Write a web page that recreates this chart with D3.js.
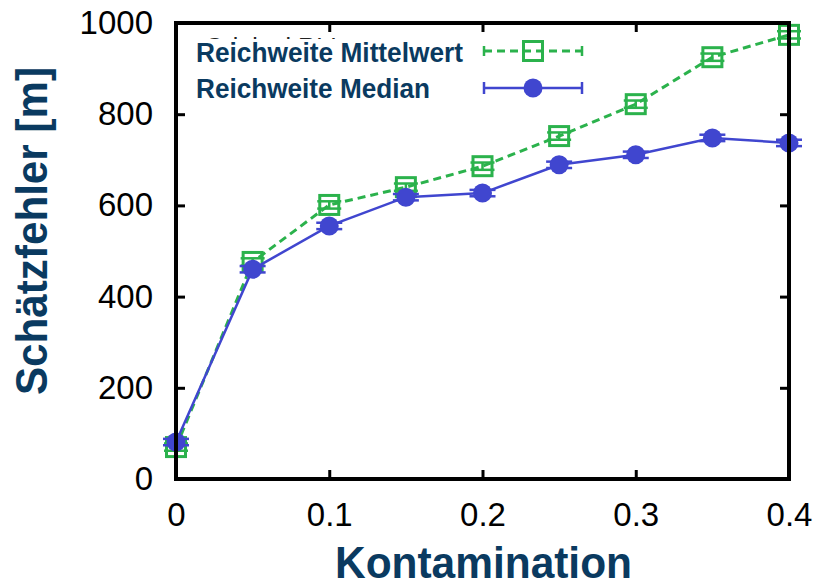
<!DOCTYPE html>
<html>
<head>
<meta charset="utf-8">
<script src="https://cdn.jsdelivr.net/npm/d3@7"></script>
<style>
	body { margin: 0; background: #fff; }
	svg { display: block; font-family: "Liberation Sans", Arial, sans-serif; }
</style>
</head>
<body>
<div id="chart"></div>
<script>
	// Kontamination (x values)
	var contamination = [0, 0.05, 0.1, 0.15, 0.2, 0.25, 0.3, 0.35, 0.4];
	// Reichweite Mittelwert / Median, estimation error in m
	var meanValues = [70, 476, 601, 640, 686, 752, 822, 925, 974];
	var meanErrors = [8, 8, 8, 8, 8, 8, 8, 8, 8];
	var medianValues = [81, 460, 555, 618, 627, 689, 711, 748, 737];
	var medianErrors = [7, 7, 7, 7, 7, 7, 7, 7, 7];
	var xTicks = [0, 0.1, 0.2, 0.3, 0.4];
	var yTicks = [0, 200, 400, 600, 800, 1000];

(function () {
	'use strict';

	var width = 821, height = 585;
	var pLeft = 176, pRight = 789, pTop = 23, pBottom = 479;
	var green = "#2bb24c", blue = "#4046cf", labelColor = "#0a3a60";

	var svg = d3.select("#chart").append("svg")
		.attr("width", width)
		.attr("height", height);

	var x = d3.scaleLinear().domain([0, 0.4]).range([pLeft, pRight]);
	var y = d3.scaleLinear().domain([0, 1000]).range([pBottom, pTop]);

	// clipped title text peeking out behind the legend
	svg.append("clipPath").attr("id", "peek")
		.append("rect").attr("x", pLeft).attr("y", pTop).attr("width", 400).attr("height", 16);
	svg.append("text")
		.attr("clip-path", "url(#peek)")
		.attr("x", 205).attr("y", 56)
		.attr("font-size", 25)
		.attr("fill", "#222")
		.text("Original RLI");

	// axes with inward ticks
	var fmtX = function(d) { return d === 0 ? "0" : d3.format(".1f")(d); };
	var axisStyle = function(g) {
		g.attr("font-size", 33).attr("font-family", "'Liberation Sans', Arial, sans-serif");
		g.select(".domain").remove();
		g.selectAll(".tick line").attr("stroke", "#000").attr("stroke-width", 3);
		g.selectAll(".tick text").attr("fill", "#000");
	};
	svg.append("g").attr("transform", "translate(0," + pBottom + ")")
		.call(d3.axisBottom(x).tickValues(xTicks).tickFormat(fmtX).tickSizeInner(-9).tickPadding(24))
		.call(axisStyle);
	svg.append("g").attr("transform", "translate(0," + pTop + ")")
		.call(d3.axisTop(x).tickValues(xTicks).tickFormat("").tickSizeInner(-9))
		.call(axisStyle);
	svg.append("g").attr("transform", "translate(" + pLeft + ",0)")
		.call(d3.axisLeft(y).tickValues(yTicks).tickFormat(d3.format("d")).tickSizeInner(-9).tickPadding(23))
		.call(axisStyle);
	svg.append("g").attr("transform", "translate(" + pRight + ",0)")
		.call(d3.axisRight(y).tickValues(yTicks).tickFormat("").tickSizeInner(-9))
		.call(axisStyle);

	var meanData = contamination.map(function(c, i) { return {x: c, v: meanValues[i], e: meanErrors[i]}; });
	var medianData = contamination.map(function(c, i) { return {x: c, v: medianValues[i], e: medianErrors[i]}; });

	var line = d3.line().x(function(d) { return x(d.x); }).y(function(d) { return y(d.v); });

	function errorBars(data, color, capW) {
		var g = svg.append("g").attr("stroke", color).attr("stroke-width", 2.5);
		data.forEach(function(d) {
			var cx = x(d.x);
			g.append("line").attr("x1", cx).attr("x2", cx).attr("y1", y(d.v - d.e)).attr("y2", y(d.v + d.e));
			g.append("line").attr("x1", cx - capW).attr("x2", cx + capW).attr("y1", y(d.v - d.e)).attr("y2", y(d.v - d.e));
			g.append("line").attr("x1", cx - capW).attr("x2", cx + capW).attr("y1", y(d.v + d.e)).attr("y2", y(d.v + d.e));
		});
	}

	// Mittelwert: dashed green with open squares
	svg.append("path").datum(meanData)
		.attr("d", line)
		.attr("fill", "none")
		.attr("stroke", green)
		.attr("stroke-width", 3)
		.attr("stroke-dasharray", "8,5");
	errorBars(meanData, green, 12);
	svg.selectAll(".sq").data(meanData).enter().append("rect")
		.attr("x", function(d) { return x(d.x) - 9.5; })
		.attr("y", function(d) { return y(d.v) - 9.5; })
		.attr("width", 19).attr("height", 19)
		.attr("fill", "none")
		.attr("stroke", green)
		.attr("stroke-width", 3);

	// Median: solid blue with filled circles
	svg.append("path").datum(medianData)
		.attr("d", line)
		.attr("fill", "none")
		.attr("stroke", blue)
		.attr("stroke-width", 2.5);
	errorBars(medianData, blue, 13);
	svg.selectAll(".dot").data(medianData).enter().append("circle")
		.attr("cx", function(d) { return x(d.x); })
		.attr("cy", function(d) { return y(d.v); })
		.attr("r", 9.5)
		.attr("fill", blue);

	// legend
	var legend = svg.append("g");
	legend.append("text").attr("x", 196).attr("y", 62)
		.attr("font-size", 27).attr("font-weight", "bold").attr("fill", labelColor)
		.attr("textLength", 267).attr("lengthAdjust", "spacingAndGlyphs")
		.text("Reichweite Mittelwert");
	legend.append("text").attr("x", 196).attr("y", 98)
		.attr("font-size", 27).attr("font-weight", "bold").attr("fill", labelColor)
		.attr("textLength", 234).attr("lengthAdjust", "spacingAndGlyphs")
		.text("Reichweite Median");
	var lx1 = 484, lx2 = 582, lxm = 533, ly1 = 51, ly2 = 88;
	legend.append("line").attr("x1", lx1).attr("x2", lx2).attr("y1", ly1).attr("y2", ly1)
		.attr("stroke", green).attr("stroke-width", 3).attr("stroke-dasharray", "8,5");
	[lx1, lx2].forEach(function(px) {
		legend.append("line").attr("x1", px).attr("x2", px).attr("y1", ly1 - 5).attr("y2", ly1 + 5)
			.attr("stroke", green).attr("stroke-width", 2.5);
		legend.append("line").attr("x1", px).attr("x2", px).attr("y1", ly2 - 6).attr("y2", ly2 + 6)
			.attr("stroke", blue).attr("stroke-width", 2.5);
	});
	legend.append("rect").attr("x", lxm - 9.5).attr("y", ly1 - 9.5).attr("width", 19).attr("height", 19)
		.attr("fill", "none").attr("stroke", green).attr("stroke-width", 3);
	legend.append("line").attr("x1", lx1).attr("x2", lx2).attr("y1", ly2).attr("y2", ly2)
		.attr("stroke", blue).attr("stroke-width", 2.5);
	legend.append("circle").attr("cx", lxm).attr("cy", ly2).attr("r", 9.5).attr("fill", blue);

	// frame on top
	svg.append("rect")
		.attr("x", pLeft).attr("y", pTop)
		.attr("width", pRight - pLeft).attr("height", pBottom - pTop)
		.attr("fill", "none").attr("stroke", "#000").attr("stroke-width", 4);

	// axis titles
	svg.append("text")
		.attr("x", 335).attr("y", 578)
		.attr("font-size", 45).attr("font-weight", "bold").attr("fill", labelColor)
		.attr("textLength", 297).attr("lengthAdjust", "spacingAndGlyphs")
		.text("Kontamination");
	svg.append("text")
		.attr("transform", "translate(47,395) rotate(-90)")
		.attr("font-size", 45).attr("font-weight", "bold").attr("fill", labelColor)
		.attr("textLength", 328).attr("lengthAdjust", "spacingAndGlyphs")
		.text("Schätzfehler [m]");
}());
</script>
</body>
</html>
